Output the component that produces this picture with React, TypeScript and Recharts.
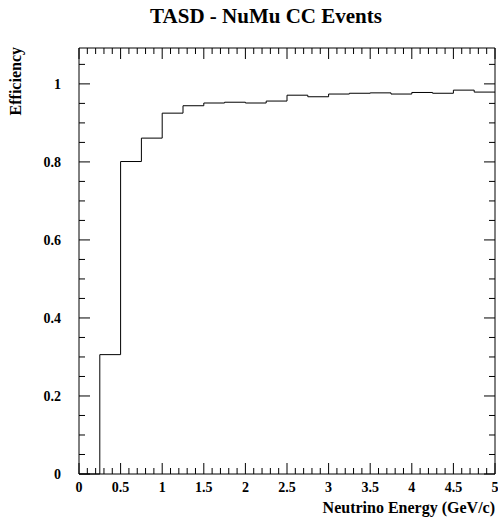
import React from "react";
import { LineChart, Line, XAxis, YAxis, Label } from "recharts";

// Bin lower edges (GeV/c), bin width 0.25
const binLowEdges = [0, 0.25, 0.5, 0.75, 1, 1.25, 1.5, 1.75, 2, 2.25, 2.5, 2.75, 3, 3.25, 3.5, 3.75, 4, 4.25, 4.5, 4.75];
const binUpperEnd = 5;
// Efficiency in each bin
const efficiency = [0, 0.306, 0.801, 0.861, 0.925, 0.944, 0.951, 0.953, 0.951, 0.956, 0.971, 0.967, 0.974, 0.976, 0.977, 0.974, 0.978, 0.976, 0.984, 0.979];

const xMajorTicks = [0, 0.5, 1, 1.5, 2, 2.5, 3, 3.5, 4, 4.5, 5];
const yMajorTicks = [0, 0.2, 0.4, 0.6, 0.8, 1];

const titleText = "TASD - NuMu CC Events";
const xTitle = "Neutrino Energy (GeV/c)";
const yTitle = "Efficiency";

const data = [
  ...binLowEdges.map((x, i) => ({ x, y: efficiency[i] })),
  { x: binUpperEnd, y: efficiency[efficiency.length - 1] },
];

const xTicks: number[] = [];
for (let i = 0; i <= 50; i++) xTicks.push(Math.round(i) / 10);
const yTicks: number[] = [];
for (let i = 0; i <= 21; i++) yTicks.push(Math.round(i * 5) / 100);

const isMajor = (v: number, list: number[]) => list.some((m) => Math.abs(m - v) < 1e-6);

const FONT = "'Liberation Serif', 'Times New Roman', serif";
const MAJ = 11;
const MIN = 6;

const BottomTick = (props: any) => {
  const { x, y, payload } = props;
  const v = payload.value;
  const major = isMajor(v, xMajorTicks);
  return (
    <g>
      <line x1={x} x2={x} y1={y} y2={y - (major ? MAJ : MIN)} stroke="#000" strokeWidth={1} />
      {major && (
        <text x={x} y={y + 18} textAnchor="middle" fontFamily={FONT} fontWeight="bold" fontSize={14} fill="#000">
          {String(v)}
        </text>
      )}
    </g>
  );
};

const TopTick = (props: any) => {
  const { x, y, payload } = props;
  const major = isMajor(payload.value, xMajorTicks);
  return <line x1={x} x2={x} y1={y} y2={y + (major ? MAJ : MIN)} stroke="#000" strokeWidth={1} />;
};

const LeftTick = (props: any) => {
  const { x, y, payload } = props;
  const v = payload.value;
  const major = isMajor(v, yMajorTicks);
  return (
    <g>
      <line x1={x} x2={x + (major ? MAJ : MIN)} y1={y} y2={y} stroke="#000" strokeWidth={1} />
      {major && (
        <text x={x - 18} y={y + 5} textAnchor="end" fontFamily={FONT} fontWeight="bold" fontSize={14} fill="#000">
          {String(v)}
        </text>
      )}
    </g>
  );
};

const RightTick = (props: any) => {
  const { x, y, payload } = props;
  const major = isMajor(payload.value, yMajorTicks);
  return <line x1={x} x2={x - (major ? MAJ : MIN)} y1={y} y2={y} stroke="#000" strokeWidth={1} />;
};

export default function App() {
  return (
    <div style={{ position: "absolute", left: 0, top: 0, width: 498, height: 518, background: "#fff" }}>
      <LineChart
        width={498}
        height={518}
        data={data}
        margin={{ top: 28, right: 2, bottom: 0, left: 0 }}
      >
        <XAxis
          xAxisId="bottom"
          dataKey="x"
          type="number"
          domain={[0, 5]}
          ticks={xTicks}
          interval={0}
          tickSize={0}
          tickMargin={0}
          tickLine={false}
          tick={<BottomTick />}
          axisLine={{ stroke: "#000", strokeWidth: 1 }}
          height={44}
          orientation="bottom"
        >
          <Label
            content={() => (
              <text x={495} y={513} textAnchor="end" fontFamily={FONT} fontWeight="bold" fontSize={16} fill="#000">
                {xTitle}
              </text>
            )}
          />
        </XAxis>
        <XAxis
          xAxisId="top"
          dataKey="x"
          type="number"
          domain={[0, 5]}
          ticks={xTicks}
          interval={0}
          tickSize={0}
          tickMargin={0}
          tickLine={false}
          tick={<TopTick />}
          axisLine={{ stroke: "#000", strokeWidth: 1 }}
          height={20}
          orientation="top"
        >
          <Label
            content={() => (
              <text x={266} y={23} textAnchor="middle" fontFamily={FONT} fontWeight="bold" fontSize={21} fill="#000">
                {titleText}
              </text>
            )}
          />
        </XAxis>
        <YAxis
          yAxisId="left"
          type="number"
          domain={[0, 1.092]}
          ticks={yTicks}
          interval={0}
          tickSize={0}
          tickMargin={0}
          tickLine={false}
          tick={<LeftTick />}
          axisLine={{ stroke: "#000", strokeWidth: 1 }}
          width={79}
          orientation="left"
        >
          <Label
            content={() => (
              <text
                x={21}
                y={47}
                textAnchor="end"
                transform="rotate(-90 21 47)"
                fontFamily={FONT}
                fontWeight="bold"
                fontSize={16}
                fill="#000"
              >
                {yTitle}
              </text>
            )}
          />
        </YAxis>
        <YAxis
          yAxisId="right"
          type="number"
          domain={[0, 1.092]}
          ticks={yTicks}
          interval={0}
          tickSize={0}
          tickMargin={0}
          tickLine={false}
          tick={<RightTick />}
          axisLine={{ stroke: "#000", strokeWidth: 1 }}
          width={1}
          orientation="right"
        />
        <Line
          xAxisId="bottom"
          yAxisId="left"
          dataKey="y"
          type="stepAfter"
          stroke="#000"
          strokeWidth={1}
          dot={false}
          activeDot={false}
          isAnimationActive={false}
        />
        <Line
          xAxisId="top"
          yAxisId="right"
          dataKey="y"
          type="stepAfter"
          stroke="none"
          dot={false}
          activeDot={false}
          legendType="none"
          isAnimationActive={false}
        />
      </LineChart>
    </div>
  );
}
